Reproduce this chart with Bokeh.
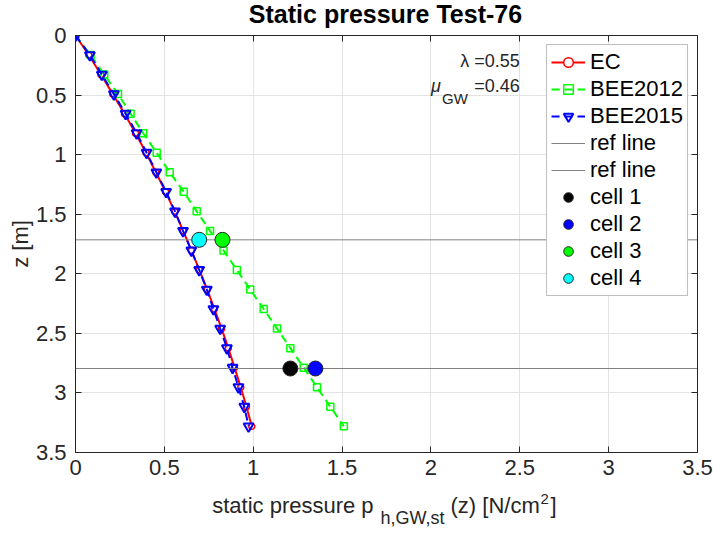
from bokeh.plotting import figure
from bokeh.layouts import column
from bokeh.models import (Range1d, LinearAxis, FixedTicker, CustomJSTickFormatter,
                          Legend, LegendItem, Label, ColumnDataSource)
from bokeh.embed import file_html
from bokeh.resources import INLINE

# ---------------- data ----------------
z = [0, 0.164, 0.328, 0.492, 0.656, 0.82, 0.984, 1.148, 1.312, 1.476, 1.64,
     1.804, 1.968, 2.132, 2.296, 2.46, 2.624, 2.788, 2.952, 3.116, 3.28]
ec = [0, 0.075, 0.143, 0.21, 0.276, 0.338, 0.397, 0.452, 0.507, 0.558, 0.606,
      0.652, 0.697, 0.741, 0.782, 0.822, 0.86, 0.895, 0.93, 0.962, 0.992]
bee2012 = [0, 0.085, 0.162, 0.239, 0.31, 0.381, 0.457, 0.53, 0.609, 0.682, 0.757,
           0.833, 0.908, 0.983, 1.059, 1.134, 1.209, 1.284, 1.359, 1.434, 1.51]
bee2015 = [0, 0.081, 0.148, 0.216, 0.282, 0.344, 0.40, 0.455, 0.51, 0.56, 0.605,
           0.652, 0.696, 0.739, 0.776, 0.814, 0.852, 0.884, 0.917, 0.95, 0.974]
ref_z = [1.715, 2.795]
cell_names = ["cell 1", "cell 2", "cell 3", "cell 4"]
cell_p = [1.209, 1.35, 0.827, 0.696]
cell_z = [2.795, 2.795, 1.715, 1.715]
cell_colors = ["#000000", "#0000ff", "#00ff00", "#00ffff"]
lam = 0.55
mu_gw = 0.46
x_lim = [0, 3.5]
y_lim = [0, 3.5]
ticks = [0, 0.5, 1, 1.5, 2, 2.5, 3, 3.5]
title_text = "Static pressure Test-76"

FONT = "Liberation Sans"
AX = "#262626"
W = 713
LEFT, RIGHT = 75, 16


def text_strip(height, y_top):
    """A blank figure whose data coordinates equal page pixels (for free text)."""
    f = figure(width=W, height=height, output_backend="svg", toolbar_location=None,
               x_range=Range1d(LEFT, W - RIGHT), y_range=Range1d(y_top + height, y_top),
               x_axis_type=None, y_axis_type=None, min_border=0,
               min_border_left=LEFT, min_border_right=RIGHT,
               background_fill_color="white", border_fill_color="white")
    f.outline_line_color = None
    f.grid.visible = False
    return f


# ---------------- title strip ----------------
pt = text_strip(30, 0)
pt.add_layout(Label(x=385, y=13, text=title_text, text_align="center",
                    text_baseline="middle", text_font=FONT, text_font_size="25px",
                    text_font_style="bold", text_color="#000000"))

# ---------------- main plot ----------------
p = figure(width=W, height=470, output_backend="svg", toolbar_location=None,
           x_range=Range1d(*x_lim), y_range=Range1d(y_lim[1], y_lim[0]),
           min_border_left=LEFT, min_border_right=RIGHT, min_border_top=15,
           min_border_bottom=38, background_fill_color="white",
           border_fill_color="white", border_fill_alpha=0.0,
           margin=(-10, 0, 0, 0))
p.outline_line_color = AX

fmt = CustomJSTickFormatter(code="return tick.toString()")
for ax in (p.xaxis[0], p.yaxis[0]):
    ax.ticker = FixedTicker(ticks=ticks)
    ax.formatter = fmt
    ax.major_tick_in = 6
    ax.major_tick_out = 0
    ax.minor_tick_in = 0
    ax.minor_tick_out = 0
    ax.axis_line_color = AX
    ax.major_tick_line_color = AX
    ax.major_label_text_font = FONT
    ax.major_label_text_font_size = "22px"
    ax.major_label_text_color = AX
p.xaxis.major_label_standoff = 7
p.yaxis.major_label_standoff = 9
p.yaxis.axis_label = "z [m]"
p.yaxis.axis_label_text_font = FONT
p.yaxis.axis_label_text_font_size = "22px"
p.yaxis.axis_label_text_font_style = "normal"
p.yaxis.axis_label_text_color = AX
p.yaxis.axis_label_standoff = 0

blank = CustomJSTickFormatter(code="return ''")
for loc in ("right", "above"):
    a = LinearAxis(ticker=FixedTicker(ticks=ticks), formatter=blank,
                   major_tick_in=6, major_tick_out=0,
                   minor_tick_in=0, minor_tick_out=0, major_label_text_font_size="1px",
                   major_label_standoff=0, axis_line_color=AX, major_tick_line_color=AX)
    p.add_layout(a, loc)

p.xgrid.grid_line_color = "#e3e3e3"
p.ygrid.grid_line_color = "#e3e3e3"

src = ColumnDataSource(dict(z=z, ec=ec, b12=bee2012, b15=bee2015))

ec_l = p.line("ec", "z", source=src, line_color="#ff0000", line_width=2)
ec_m = p.scatter("ec", "z", source=src, marker="circle", size=6, line_color="#ff0000",
                 fill_color="white", line_width=1.5)
b12_l = p.line("b12", "z", source=src, line_color="#00ff00", line_width=2, line_dash="8 5")
b12_m = p.scatter("b12", "z", source=src, marker="square", size=7, line_color="#00ff00",
                  fill_color=None, line_width=1.5)
b15_l = p.line("b15", "z", source=src, line_color="#0000ff", line_width=2, line_dash="8 5")
b15_m = p.scatter("b15", "z", source=src, marker="inverted_triangle", size=10,
                  line_color="#0000ff", fill_color=None, line_width=2)

ref_r = []
for rz in ref_z:
    ref_r.append(p.segment(x0=x_lim[0], y0=rz, x1=x_lim[1], y1=rz,
                           line_color="#808080", line_width=1))

cell_r = []
for nm, cx, cz, cc in zip(cell_names, cell_p, cell_z, cell_colors):
    cell_r.append(p.scatter(x=[cx], y=[cz], marker="circle", size=15,
                            fill_color=cc, line_color="#262626", line_width=1))

items = [LegendItem(label="EC", renderers=[ec_l, ec_m]),
         LegendItem(label="BEE2012", renderers=[b12_l, b12_m]),
         LegendItem(label="BEE2015", renderers=[b15_l, b15_m]),
         LegendItem(label="ref line", renderers=[ref_r[0]]),
         LegendItem(label="ref line", renderers=[ref_r[1]])]
items += [LegendItem(label=nm, renderers=[r]) for nm, r in zip(cell_names, cell_r)]
leg = Legend(items=items, location="top_right", margin=9, padding=4,
             glyph_width=34, glyph_height=24, label_height=24, spacing=1,
             label_standoff=5, label_text_font=FONT, label_text_font_size="22px",
             label_text_line_height=1.0,
             label_text_color="#000000", border_line_color="#7f7f7f",
             border_line_width=1, background_fill_color="white",
             background_fill_alpha=1.0)
p.add_layout(leg, "center")

# annotations
p.add_layout(Label(x=2.5, y=0.218, text=f"\u03bb ={lam:.2f}", text_align="right",
                   text_baseline="middle", text_font=FONT, text_font_size="18px",
                   text_color=AX))
p.add_layout(Label(x=2.5, y=0.428, text=f"={mu_gw:.2f}", text_align="right",
                   text_baseline="middle", text_font=FONT, text_font_size="18px",
                   text_color=AX))
p.add_layout(Label(x=2.5, y=0.428, x_offset=-52, y_offset=-12, text="GW", text_align="right",
                   text_baseline="middle", text_font=FONT, text_font_size="15px",
                   text_color=AX))
p.add_layout(Label(x=2.5, y=0.428, x_offset=-79, text="\u03bc", text_align="right",
                   text_baseline="middle", text_font=FONT, text_font_size="18px",
                   text_font_style="italic", text_color=AX))

# ---------------- x axis label strip (sub/superscripts) ----------------
pb = text_strip(44, 490)
xl = [("static pressure p", 211.7, 505.1, "22px"),
      ("h,GW,st", 380, 517.8, "18px"),
      ("(z) [N/cm", 450, 505.1, "22px"),
      ("2", 540, 498.1, "15px"),
      ("]", 550, 505.1, "22px")]
for t, xx, yy, fs in xl:
    pb.add_layout(Label(x=xx, y=yy, text=t, text_align="left",
                        text_baseline="middle", text_font=FONT,
                        text_font_size=fs, text_color=AX))

layout = column(pt, p, pb, spacing=0)
open("out.html", "w").write(file_html(layout, INLINE))
